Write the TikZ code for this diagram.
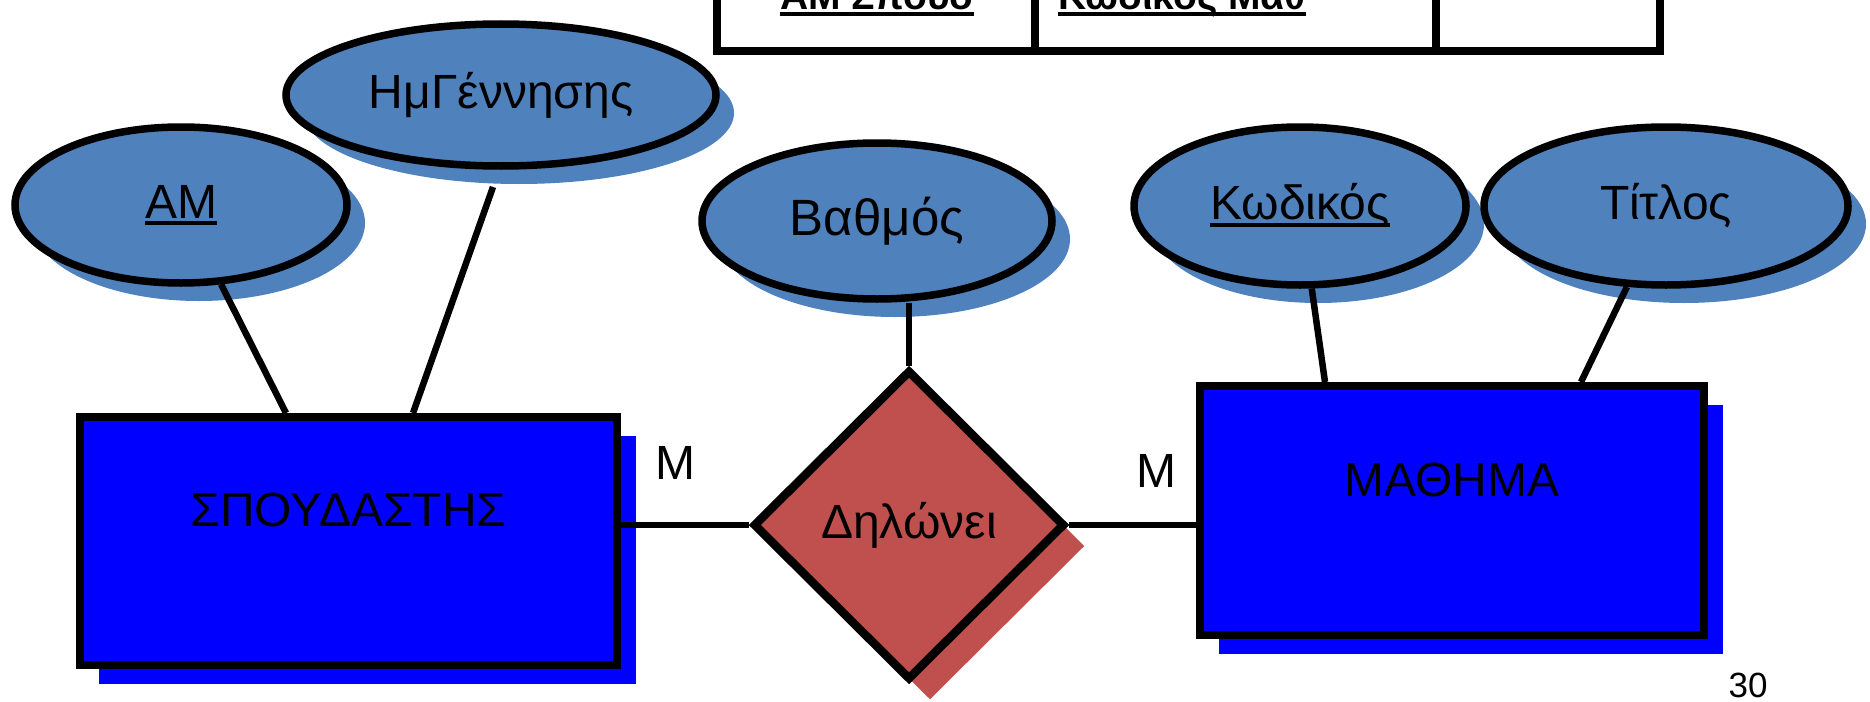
\documentclass[tikz,border=0pt]{standalone}
\usepackage{fontspec}
\setmainfont{Liberation Sans}
\usetikzlibrary{shapes.geometric,shadows}
\definecolor{attrblue}{HTML}{4F81BD}
\definecolor{entblue}{HTML}{0000FF}
\definecolor{relred}{HTML}{C0504D}
\newcommand\myul[2]{\setbox0=\hbox{#2}\rlap{\vrule width\wd0 height -#1 depth \dimexpr#1+3.4pt\relax}\box0}
\begin{document}
\begin{tikzpicture}[x=1pt,y=-1pt,
  attr/.style={ellipse, draw, line width=7.5pt, fill=attrblue, inner sep=0pt,
    general shadow={shadow xshift=18pt, shadow yshift=-18pt, fill=attrblue},
    font=\fontsize{48}{56}\selectfont},
  ent/.style={rectangle, draw, line width=8.5pt, fill=entblue, inner sep=0pt,
    general shadow={shadow xshift=19pt, shadow yshift=-19pt, fill=entblue}},
  rel/.style={diamond, draw, line width=8.5pt, fill=relred, inner sep=0pt,
    general shadow={shadow xshift=21pt, shadow yshift=-21pt, fill=relred},
    font=\fontsize{48}{56}\selectfont},
  conn/.style={line width=6.5pt},
  txt/.style={font=\fontsize{48}{56}\selectfont, inner sep=0pt},
  tabtxt/.style={anchor=base, inner sep=0pt, font=\bfseries\fontsize{39}{45}\selectfont}
]
\useasboundingbox (0,0) rectangle (1870,701);
\clip (0,0) rectangle (1870,701);

% table (cut at top)
\draw[line width=8pt] (717,-40) rectangle (1660,51);
\draw[line width=8pt] (1035,-40) -- (1035,51);
\draw[line width=8pt] (1436,-40) -- (1436,51);
\node[tabtxt] (t1) at (877,10) {\myul{2.2pt}{ΑΜ Σπουδ}};
\node[tabtxt] (t2) at (1182,10) {\myul{2.2pt}{Κωδικός Μαθ}};

% entities
\node[ent, minimum width=537pt, minimum height=248pt,
  label={[txt, yshift=31pt]center:ΣΠΟΥΔΑΣΤΗΣ}] (spoud) at (348.5,541) {};
\node[ent, minimum width=504pt, minimum height=249pt,
  label={[txt, yshift=31pt]center:ΜΑΘΗΜΑ}] (math) at (1452,510.5) {};

% relationship
\node[rel, minimum width=312pt, minimum height=310pt] (rel) at (909,525) {Δηλώνει};

% attributes
\node[attr, minimum width=332pt, minimum height=156pt] (am) at (181,205) {\myul{3.3pt}{ΑΜ}};
\node[attr, minimum width=430pt, minimum height=142pt] (hmg) at (501,95) {ΗμΓέννησης};
\node[attr, minimum width=350pt, minimum height=156pt, font=\fontsize{51}{58}\selectfont] (vath) at (877,221) {Βαθμός};
\node[attr, minimum width=332pt, minimum height=158pt] (kod) at (1300,206) {\myul{3.3pt}{Κωδικός}};
\node[attr, minimum width=364pt, minimum height=158pt] (titl) at (1666,206) {Τίτλος};

% connector end points
\coordinate (amfoot) at (286,413);
\coordinate (hmgtop) at (493,187);
\coordinate (hmgfoot) at (413,413);
\coordinate (kodfoot) at (1325,382);
\coordinate (titlfoot) at (1581,382);

\draw[conn] (am) -- (amfoot);
\draw[conn] (hmgtop) -- (hmgfoot);
\draw[conn] (kod) -- (kodfoot);
\draw[conn] (titl) -- (titlfoot);
\draw[conn] (rel.north) -- (rel.north |- vath.south);
\draw[conn] (rel.west) -- (rel.west -| spoud.east);
\draw[conn] (rel.east) -- (rel.east -| math.west);

% cardinalities
\node[txt] (m1) at (675,463) {Μ};
\node[txt] (m2) at (1156,471) {Μ};

% page number
\node[anchor=base, inner sep=0pt, font=\fontsize{35}{40}\selectfont] (pg) at (1748,697) {30};
\end{tikzpicture}
\end{document}
